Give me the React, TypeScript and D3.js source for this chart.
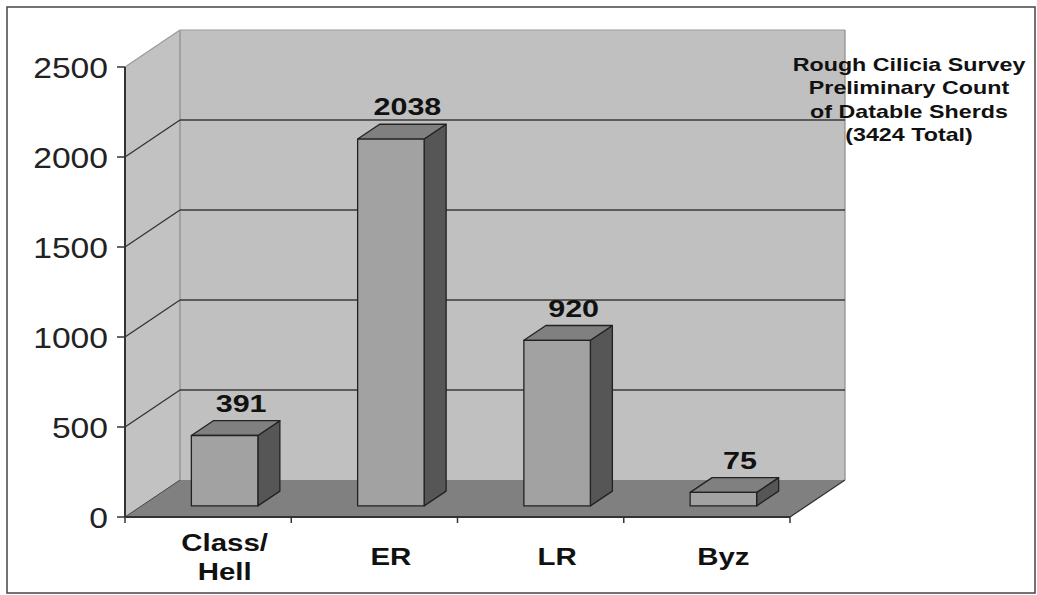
import React from "react";
import * as d3 from "d3";

const categories: string[][] = [["Class/", "Hell"], ["ER"], ["LR"], ["Byz"]];
const values: number[] = [391, 2038, 920, 75];
const yTicks: number[] = [0, 500, 1000, 1500, 2000, 2500];
const titleLines: string[] = [
  "Rough Cilicia Survey",
  "Preliminary Count",
  "of Datable Sherds",
  "(3424 Total)",
];

const W = 1037;
const H = 595;
const DX = 55;
const DY = -37;
const Z0 = 0.3;
const Z1 = 0.7;
const FONT = "'Liberation Sans', Arial, sans-serif";

export default function App() {
  const x = d3
    .scaleBand<number>()
    .domain(d3.range(values.length))
    .range([125, 790])
    .paddingInner(0)
    .paddingOuter(0);
  const y = d3.scaleLinear().domain([0, 2500]).range([517, 67]);
  const bw = x.bandwidth() * 0.4;
  const P = (px: number, v: number, z: number): [number, number] => [
    px + z * DX,
    y(v) + z * DY,
  ];
  const poly = (pts: [number, number][]) => pts.map((p) => p.join(",")).join(" ");

  const x0 = 125;
  const x1 = 790;
  const vMax = 2500;

  const sideWall = poly([P(x0, 0, 0), P(x0, vMax, 0), P(x0, vMax, 1), P(x0, 0, 1)]);
  const backWall = poly([P(x0, 0, 1), P(x0, vMax, 1), P(x1, vMax, 1), P(x1, 0, 1)]);
  const floor = poly([P(x0, 0, 0), P(x1, 0, 0), P(x1, 0, 1), P(x0, 0, 1)]);

  const catTicks = [...d3.range(values.length).map((i) => x(i) as number), x1];

  return (
    <svg
      width={W}
      height={H}
      style={{ position: "absolute", left: 0, top: 0, background: "#fff" }}
      fontFamily={FONT}
    >
      <rect x={7} y={7} width={1028} height={586} fill="#fff" stroke="#444" strokeWidth={1.5} />

      {/* walls */}
      <polygon points={sideWall} fill="#c2c2c2" stroke="none" />
      <polygon points={backWall} fill="#c0c0c0" stroke="none" />
      <polygon points={floor} fill="#808080" stroke="none" />

      {/* wall edges */}
      <line x1={P(x0, 0, 1)[0]} y1={P(x0, 0, 1)[1]} x2={P(x0, vMax, 1)[0]} y2={P(x0, vMax, 1)[1]} stroke="#8a8a8a" strokeWidth={1.2} />
      <line x1={P(x0, vMax, 0)[0]} y1={P(x0, vMax, 0)[1]} x2={P(x0, vMax, 1)[0]} y2={P(x0, vMax, 1)[1]} stroke="#9a9a9a" strokeWidth={1.2} />
      <line x1={P(x0, vMax, 1)[0]} y1={P(x0, vMax, 1)[1]} x2={P(x1, vMax, 1)[0]} y2={P(x1, vMax, 1)[1]} stroke="#9a9a9a" strokeWidth={1.2} />
      <line x1={P(x1, vMax, 1)[0]} y1={P(x1, vMax, 1)[1]} x2={P(x1, 0, 1)[0]} y2={P(x1, 0, 1)[1]} stroke="#8a8a8a" strokeWidth={1.2} />

      {/* gridlines */}
      {yTicks
        .filter((t) => t > 0 && t < vMax)
        .map((t) => (
          <g key={"g" + t}>
            <line x1={P(x0, t, 0)[0]} y1={P(x0, t, 0)[1]} x2={P(x0, t, 1)[0]} y2={P(x0, t, 1)[1]} stroke="#333" strokeWidth={1.3} />
            <line x1={P(x0, t, 1)[0]} y1={P(x0, t, 1)[1]} x2={P(x1, t, 1)[0]} y2={P(x1, t, 1)[1]} stroke="#3a3a3a" strokeWidth={1.6} />
          </g>
        ))}
      {/* floor right edge */}
      <line x1={P(x1, 0, 0)[0]} y1={P(x1, 0, 0)[1]} x2={P(x1, 0, 1)[0]} y2={P(x1, 0, 1)[1]} stroke="#333" strokeWidth={1.3} />
      <line x1={P(x0, 0, 0)[0]} y1={P(x0, 0, 0)[1]} x2={P(x0, 0, 1)[0]} y2={P(x0, 0, 1)[1]} stroke="#444" strokeWidth={1} />

      {/* bars */}
      {values.map((v, i) => {
        const cx = (x(i) as number) + x.bandwidth() / 2;
        const l = cx - bw / 2;
        const r = cx + bw / 2;
        const front = poly([P(l, 0, Z0), P(l, v, Z0), P(r, v, Z0), P(r, 0, Z0)]);
        const top = poly([P(l, v, Z0), P(l, v, Z1), P(r, v, Z1), P(r, v, Z0)]);
        const side = poly([P(r, 0, Z0), P(r, v, Z0), P(r, v, Z1), P(r, 0, Z1)]);
        const lp = P(cx, v, 0.6);
        const ly = P(cx, v, Z1)[1] - 9;
        return (
          <g key={"b" + i}>
            <polygon points={side} fill="#565656" stroke="#222" strokeWidth={1.3} strokeLinejoin="round" />
            <polygon points={top} fill="#808080" stroke="#222" strokeWidth={1.3} strokeLinejoin="round" />
            <polygon points={front} fill="#a2a2a2" stroke="#222" strokeWidth={1.3} strokeLinejoin="round" />
            <text
              transform={`translate(${lp[0]},${ly}) scale(1.27,1)`}
              textAnchor="middle"
              fontSize={24}
              fontWeight="bold"
              fill="#111"
            >
              {v}
            </text>
          </g>
        );
      })}

      {/* value axis */}
      <line x1={x0} y1={y(0)} x2={x0} y2={y(vMax)} stroke="#333" strokeWidth={2} />
      {yTicks.map((t) => (
        <g key={"t" + t}>
          <line x1={x0 - 8} y1={y(t)} x2={x0} y2={y(t)} stroke="#333" strokeWidth={1.5} />
          <text
            transform={`translate(108,${y(t) + 10.5}) scale(1.16,1)`}
            textAnchor="end"
            fontSize={29}
            fill="#222"
          >
            {t}
          </text>
        </g>
      ))}

      {/* category axis */}
      <line x1={x0} y1={y(0)} x2={x1} y2={y(0)} stroke="#333" strokeWidth={2} />
      {catTicks.map((t, i) => (
        <line key={"c" + i} x1={t} y1={y(0)} x2={t} y2={y(0) + 6} stroke="#333" strokeWidth={1.5} />
      ))}
      {categories.map((lines, i) => {
        const cx = (x(i) as number) + x.bandwidth() / 2 + Z0 * DX;
        const base = lines.length === 1 ? 565 : 551;
        return lines.map((s, j) => (
          <text
            key={"cl" + i + "-" + j}
            transform={`translate(${cx},${base + j * 29}) scale(1.28,1)`}
            textAnchor="middle"
            fontSize={23}
            fontWeight="bold"
            fill="#111"
          >
            {s}
          </text>
        ));
      })}

      {/* title */}
      {titleLines.map((s, i) => (
        <text
          key={"ti" + i}
          transform={`translate(909,${71 + i * 23.3}) scale(1.33,1)`}
          textAnchor="middle"
          fontSize={17.5}
          fontWeight="bold"
          fill="#111"
        >
          {s}
        </text>
      ))}
    </svg>
  );
}
